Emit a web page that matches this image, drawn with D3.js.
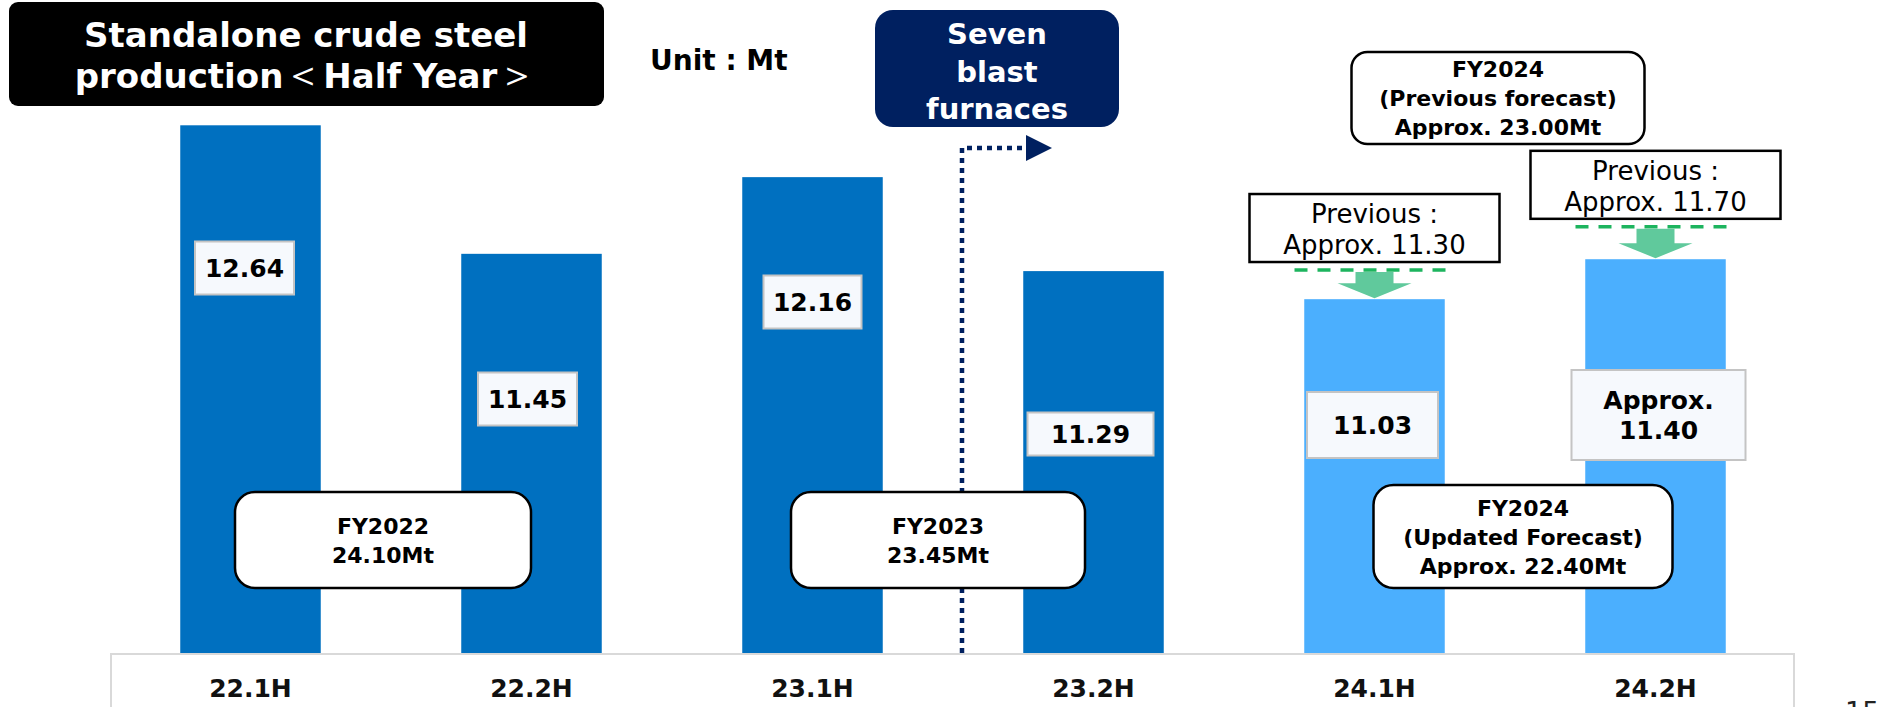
<!DOCTYPE html>
<html>
<head>
<meta charset="utf-8">
<script src="https://cdn.jsdelivr.net/npm/d3@7"></script>
<style>
  html, body { margin: 0; padding: 0; background: #fff; overflow: hidden; }
  text { font-family: "DejaVu Sans", Verdana, sans-serif; }
</style>
</head>
<body>
<div id="chart"></div>
<script>
// half-year crude steel production, Mt
var periods = ["22.1H", "22.2H", "23.1H", "23.2H", "24.1H", "24.2H"];
var production = [12.64, 11.45, 12.16, 11.29, 11.03, 11.40];
var isApprox = [false, false, false, false, false, true];
var isFY2024 = [false, false, false, false, true, true];

// previous forecasts (only FY2024 halves)
var previousForecast = [null, null, null, null, 11.30, 11.70];

// full year totals
var fiscalYears = ["FY2022", "FY2023", "FY2024"];
var fyTotals = [24.10, 23.45, 22.40];
var fyPrevTotal = 23.00;

var width = 1883, height = 707;

var svg = d3.select("#chart").append("svg")
    .attr("width", width)
    .attr("height", height);

var x = d3.scaleBand()
    .domain(periods)
    .range([110, 1796])
    .paddingInner(0.5)
    .paddingOuter(0.25);

var y = d3.scaleLinear()
    .domain([7.745, 13.80])
    .range([654, 0]);

var fmt = d3.format(".2f");
var bw = x.bandwidth();
function cx(p) { return x(p) + bw / 2; }

var bars = periods.map(function(p, i) {
  return {period: p, value: production[i], approx: isApprox[i], fy24: isFY2024[i], prev: previousForecast[i]};
});

// navy dotted marker (drawn first, FY2023 box covers it)
var lineX = (x("23.1H") + bw + x("23.2H")) / 2 + 9;
svg.append("path")
    .attr("d", "M" + lineX + ",683V148H1024")
    .attr("fill", "none")
    .attr("stroke", "#002060")
    .attr("stroke-width", 4.5)
    .attr("stroke-dasharray", "5,5");
svg.append("path")
    .attr("d", "M1026,135L1052,148L1026,161Z")
    .attr("fill", "#002060");

// bars
svg.append("g").selectAll("rect")
  .data(bars)
  .enter().append("rect")
    .attr("x", function(d) { return x(d.period); })
    .attr("y", function(d) { return y(d.value); })
    .attr("width", bw)
    .attr("height", function(d) { return y.range()[0] - y(d.value); })
    .attr("fill", function(d) { return d.fy24 ? "#4BAFFE" : "#0070C0"; });

// category axis box
svg.append("rect")
    .attr("x", 111).attr("y", 654)
    .attr("width", 1683).attr("height", 80)
    .attr("fill", "#fff")
    .attr("stroke", "#d9d9d9")
    .attr("stroke-width", 2);

svg.append("g").selectAll("text")
  .data(periods)
  .enter().append("text")
    .attr("x", function(d) { return cx(d); })
    .attr("y", 697)
    .attr("text-anchor", "middle")
    .attr("font-size", 25)
    .attr("font-weight", "bold")
    .attr("fill", "#111")
    .text(function(d) { return d; });

// value label boxes
var labelLayout = [
  {dx: -6, cy: 268, w: 99, h: 53},
  {dx: -4, cy: 399, w: 99, h: 53},
  {dx: 0, cy: 302, w: 98, h: 53},
  {dx: -3, cy: 434, w: 126, h: 43},
  {dx: -2, cy: 425, w: 131, h: 66},
  {dx: 3, cy: 415, w: 174, h: 90}
];

var lab = svg.append("g").selectAll("g")
  .data(bars)
  .enter().append("g")
    .attr("transform", function(d, i) {
      return "translate(" + (cx(d.period) + labelLayout[i].dx) + "," + labelLayout[i].cy + ")";
    });

lab.append("rect")
    .attr("x", function(d, i) { return -labelLayout[i].w / 2; })
    .attr("y", function(d, i) { return -labelLayout[i].h / 2; })
    .attr("width", function(d, i) { return labelLayout[i].w; })
    .attr("height", function(d, i) { return labelLayout[i].h; })
    .attr("fill", "#F6F9FD")
    .attr("stroke", "#C4C4C4")
    .attr("stroke-width", 2);

lab.each(function(d) {
  var g = d3.select(this);
  var lines = d.approx ? ["Approx.", fmt(d.value)] : [fmt(d.value)];
  lines.forEach(function(t, k) {
    g.append("text")
      .attr("text-anchor", "middle")
      .attr("y", (k - (lines.length - 1) / 2) * 30 + 9)
      .attr("font-size", 25)
      .attr("font-weight", "bold")
      .attr("fill", "#000")
      .text(t);
  });
});

// previous forecast marks: dashed line, box, arrow down to bar
var prevBars = bars.filter(function(d) { return d.prev != null; });

svg.append("g").selectAll("line")
  .data(prevBars)
  .enter().append("line")
    .attr("x1", function(d) { return cx(d.period) - 80; })
    .attr("x2", function(d) { return cx(d.period) + 80; })
    .attr("y1", function(d) { return y(d.prev); })
    .attr("y2", function(d) { return y(d.prev); })
    .attr("stroke", "#1DB45E")
    .attr("stroke-width", 3.5)
    .attr("stroke-dasharray", "13,10");

svg.append("g").selectAll("path")
  .data(prevBars)
  .enter().append("path")
    .attr("fill", "#60C99C")
    .attr("d", function(d) {
      var c = cx(d.period), t = y(d.prev) + 2, b = y(d.value) - 1, hh = 15;
      return "M" + (c - 19) + "," + t + "H" + (c + 19) + "V" + (b - hh) +
        "H" + (c + 37) + "L" + c + "," + b + "L" + (c - 37) + "," + (b - hh) +
        "H" + (c - 19) + "Z";
    });

var prevBox = svg.append("g").selectAll("g")
  .data(prevBars)
  .enter().append("g")
    .attr("transform", function(d) { return "translate(" + cx(d.period) + "," + (y(d.prev) - 8) + ")"; });

prevBox.append("rect")
    .attr("x", -125).attr("y", -68)
    .attr("width", 250).attr("height", 68)
    .attr("fill", "#fff")
    .attr("stroke", "#000")
    .attr("stroke-width", 2.5);

prevBox.append("text")
    .attr("text-anchor", "middle")
    .attr("y", -39)
    .attr("font-size", 26)
    .attr("fill", "#000")
    .text("Previous :");

prevBox.append("text")
    .attr("text-anchor", "middle")
    .attr("y", -8)
    .attr("font-size", 26)
    .attr("fill", "#000")
    .text(function(d) { return "Approx. " + fmt(d.prev); });

// fiscal year total boxes
function roundBox(cxv, top, w, h, lines, r) {
  var g = svg.append("g").attr("transform", "translate(" + cxv + "," + top + ")");
  g.append("rect")
    .attr("x", -w / 2).attr("y", 0)
    .attr("width", w).attr("height", h)
    .attr("rx", r).attr("ry", r)
    .attr("fill", "#fff")
    .attr("stroke", "#000")
    .attr("stroke-width", 2.5);
  var lh = 29, first = h / 2 - (lines.length - 1) * lh / 2 + 8;
  lines.forEach(function(t, k) {
    g.append("text")
      .attr("text-anchor", "middle")
      .attr("y", first + k * lh)
      .attr("font-size", 22)
      .attr("font-weight", "bold")
      .attr("fill", "#000")
      .text(t);
  });
}

function pairMid(a, b) { return (cx(a) + cx(b)) / 2; }

roundBox(pairMid("22.1H", "22.2H") - 8, 492, 296, 96,
  [fiscalYears[0], fmt(fyTotals[0]) + "Mt"], 20);
roundBox(pairMid("23.1H", "23.2H") - 15, 492, 294, 96,
  [fiscalYears[1], fmt(fyTotals[1]) + "Mt"], 20);
roundBox(pairMid("24.1H", "24.2H") + 8, 485, 299, 103,
  [fiscalYears[2], "(Updated Forecast)", "Approx. " + fmt(fyTotals[2]) + "Mt"], 20);
roundBox(pairMid("24.1H", "24.2H") - 17, 52, 293, 92,
  [fiscalYears[2], "(Previous forecast)", "Approx. " + fmt(fyPrevTotal) + "Mt"], 16);

// title
svg.append("rect")
    .attr("x", 9).attr("y", 2)
    .attr("width", 595).attr("height", 104)
    .attr("rx", 9).attr("ry", 9)
    .attr("fill", "#000");

svg.append("text")
    .attr("x", 306).attr("y", 47)
    .attr("text-anchor", "middle")
    .attr("font-size", 34)
    .attr("font-weight", "bold")
    .attr("fill", "#fff")
    .text("Standalone crude steel");

var t2 = svg.append("text")
    .attr("x", 306).attr("y", 88)
    .attr("text-anchor", "middle")
    .attr("font-size", 34)
    .attr("font-weight", "bold")
    .attr("fill", "#fff");
t2.append("tspan").text("production");
t2.append("tspan").attr("font-size", 40).attr("font-weight", "normal").text("＜");
t2.append("tspan").text("Half Year");
t2.append("tspan").attr("font-size", 40).attr("font-weight", "normal").text("＞");

svg.append("text")
    .attr("x", 650).attr("y", 70)
    .attr("font-size", 28)
    .attr("font-weight", "bold")
    .attr("fill", "#000")
    .text("Unit : Mt");

// seven blast furnaces callout
svg.append("rect")
    .attr("x", 875).attr("y", 10)
    .attr("width", 244).attr("height", 117)
    .attr("rx", 18).attr("ry", 18)
    .attr("fill", "#002060");

["Seven", "blast", "furnaces"].forEach(function(t, k) {
  svg.append("text")
    .attr("x", 997).attr("y", 44 + k * 37.5)
    .attr("text-anchor", "middle")
    .attr("font-size", 29)
    .attr("font-weight", "bold")
    .attr("fill", "#fff")
    .text(t);
});

// page number (cut off at the bottom)
svg.append("text")
    .attr("x", 1845).attr("y", 721)
    .attr("font-size", 27)
    .attr("fill", "#222")
    .text("15");
</script>
</body>
</html>
